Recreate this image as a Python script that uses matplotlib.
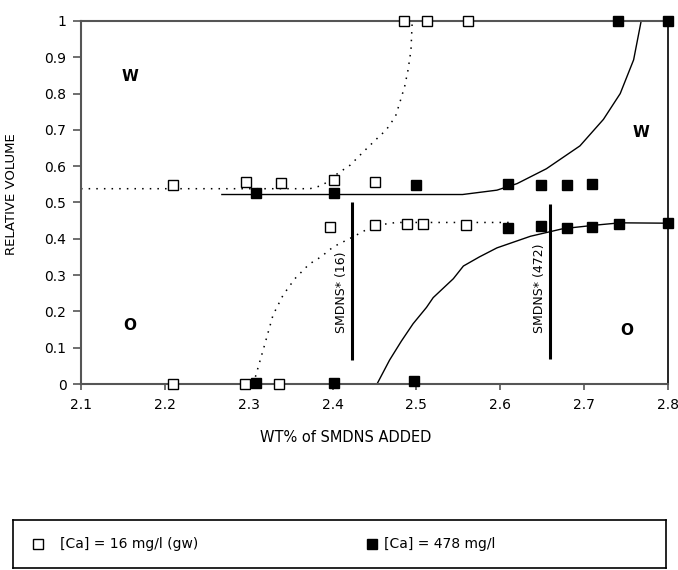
import matplotlib
matplotlib.use("Agg")
import matplotlib.pyplot as plt
from matplotlib.ticker import MultipleLocator, FormatStrFormatter

plt.rcParams['font.family'] = ['DejaVu Sans']

# open squares, [Ca] = 16 mg/l (gw)
ca16_x = [2.21, 2.297, 2.339, 2.402, 2.450,
          2.397, 2.450, 2.489, 2.508, 2.559,
          2.21, 2.296, 2.336,
          2.485, 2.513, 2.561]
ca16_y = [0.547, 0.556, 0.554, 0.563, 0.556,
          0.432, 0.438, 0.441, 0.440, 0.437,
          0.0, 0.0, 0.0,
          1.0, 1.0, 1.0]

# filled squares, [Ca] = 478 mg/l
ca478_x = [2.309, 2.402, 2.500, 2.609, 2.649, 2.680, 2.709,
           2.609, 2.649, 2.680, 2.709, 2.742, 2.80,
           2.309, 2.402, 2.497,
           2.740, 2.80]
ca478_y = [0.527, 0.525, 0.547, 0.552, 0.547, 0.547, 0.552,
           0.430, 0.434, 0.430, 0.433, 0.440, 0.443,
           0.004, 0.003, 0.008,
           1.0, 1.0]

# guide curves
dot_up_x = [2.10, 2.373, 2.386, 2.397, 2.403, 2.421, 2.436, 2.452, 2.464,
            2.475, 2.480, 2.486, 2.490, 2.4935, 2.495]
dot_up_y = [0.538, 0.538, 0.546, 0.561, 0.575, 0.603, 0.638, 0.674, 0.70,
            0.737, 0.774, 0.82, 0.865, 0.92, 1.0]

dot_lo_x = [2.308, 2.318, 2.329, 2.341, 2.355, 2.372, 2.386, 2.401, 2.425,
            2.449, 2.476, 2.61]
dot_lo_y = [0.02, 0.10, 0.19, 0.245, 0.29, 0.33, 0.35, 0.378, 0.406,
            0.436, 0.445, 0.445]

sol_up_x = [2.268, 2.555, 2.596, 2.620, 2.655, 2.695, 2.723, 2.743, 2.759, 2.768]
sol_up_y = [0.522, 0.522, 0.534, 0.552, 0.593, 0.656, 0.729, 0.80, 0.893, 1.0]

sol_lo_x = [2.453, 2.468, 2.482, 2.496, 2.512, 2.520, 2.544, 2.556, 2.575,
            2.596, 2.636, 2.675, 2.715, 2.743, 2.80]
sol_lo_y = [0.0, 0.066, 0.118, 0.166, 0.211, 0.238, 0.29, 0.325, 0.35,
            0.375, 0.407, 0.428, 0.438, 0.444, 0.443]

# SMDNS* markers
smd_x = [2.423, 2.659]
smd_ymin = [0.066, 0.069]
smd_ymax = [0.502, 0.496]
smd_labels = ["SMDNS* (16)", "SMDNS* (472)"]

fig = plt.figure(figsize=(6.78, 5.70), dpi=100)
ax = fig.add_axes([81 / 678, 1 - 384 / 570, 587 / 678, 363 / 570])

ax.plot(dot_up_x, dot_up_y, color='black', lw=1.1, ls=(0, (1, 4)))
ax.plot(dot_lo_x, dot_lo_y, color='black', lw=1.1, ls=(0, (1, 4)))
ax.plot(sol_up_x, sol_up_y, color='black', lw=1.0)
ax.plot(sol_lo_x, sol_lo_y, color='black', lw=1.0)
ax.vlines(smd_x, smd_ymin, smd_ymax, color='black', lw=2.2)

ax.plot(ca16_x, ca16_y, ls='none', marker='s', ms=7.5, mfc='white',
        mec='black', mew=1.0, clip_on=False, zorder=5)
ax.plot(ca478_x, ca478_y, ls='none', marker='s', ms=7.5, mfc='black',
        mec='black', mew=1.0, clip_on=False, zorder=5)

for x, yc, lab in zip(smd_x, [0.252, 0.264], smd_labels):
    ax.text(x - 0.012, yc, lab, rotation=90, ha='center', va='center',
            fontsize=9)

ax.text(2.158, 0.848, "W", fontsize=11, fontweight='bold', ha='center', va='center')
ax.text(2.768, 0.692, "W", fontsize=11, fontweight='bold', ha='center', va='center')
ax.text(2.158, 0.161, "O", fontsize=11, fontweight='bold', ha='center', va='center')
ax.text(2.751, 0.148, "O", fontsize=11, fontweight='bold', ha='center', va='center')

ax.set_xlim(2.1, 2.8)
ax.set_ylim(0, 1)
ax.xaxis.set_major_locator(MultipleLocator(0.1))
ax.yaxis.set_major_locator(MultipleLocator(0.1))
ax.xaxis.set_major_formatter(FormatStrFormatter('%g'))
ax.yaxis.set_major_formatter(FormatStrFormatter('%g'))
ax.tick_params(direction='out', width=1.2, color='#555555', labelsize=10)
ax.tick_params(axis='y', length=6, pad=4.5)
ax.tick_params(axis='x', length=4.5, pad=5.5)
for side in ['left', 'bottom', 'top']:
    ax.spines[side].set_color('#555555')
    ax.spines[side].set_linewidth(1.5)
ax.spines['right'].set_color('black')
ax.spines['right'].set_linewidth(1.2)

ax.set_ylabel("RELATIVE VOLUME", fontsize=9.5)
ax.yaxis.set_label_coords(-(81 - 18) / 587, 0.523)
fig.text(346 / 678, 1 - 438 / 570, "WT% of SMDNS ADDED", fontsize=10.5,
         ha='center', va='center')

# legend box
lax = fig.add_axes([13 / 678, 2 / 570, 653 / 678, 48 / 570])
lax.set_xlim(0, 1)
lax.set_ylim(0, 1)
lax.set_xticks([])
lax.set_yticks([])
for s in lax.spines.values():
    s.set_color('black')
    s.set_linewidth(1.2)
lax.plot([(38 - 13) / 653], [0.5], ls='none', marker='s', ms=6.5,
         mfc='white', mec='black', mew=1.0)
lax.plot([(372 - 13) / 653], [0.5], ls='none', marker='s', ms=6.5,
         mfc='black', mec='black', mew=1.0)
lax.text((60 - 13) / 653, 0.5, "[Ca] = 16 mg/l (gw)", fontsize=10, va='center')
lax.text((384 - 13) / 653, 0.5, "[Ca] = 478 mg/l", fontsize=10, va='center')

fig.savefig("out.png", dpi=100)
